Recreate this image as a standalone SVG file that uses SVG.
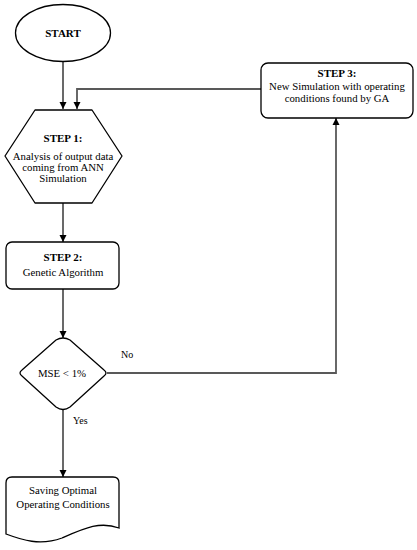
<svg xmlns="http://www.w3.org/2000/svg" width="417" height="550" viewBox="0 0 417 550">
<style>
.shape{fill:#fff;stroke:#000;stroke-width:1.3}
.conn{fill:none;stroke:#595959;stroke-width:1.8}
text{font-family:"Liberation Serif","DejaVu Serif",serif;font-size:10.8px;fill:#000;text-anchor:middle}
.b{font-weight:bold;font-size:11px}
.s{font-size:10px}
.l{text-anchor:start}
</style>
<defs>
<marker id="ah" markerWidth="8" markerHeight="8" refX="7" refY="4" orient="auto" markerUnits="userSpaceOnUse">
<path d="M0,0.5 L7,4 L0,7.5 Z" fill="#000"/>
</marker>
</defs>
<rect width="417" height="550" fill="#fff"/>
<g id="connectors">
<path class="conn" d="M63,62 V109" marker-end="url(#ah)"/>
<path class="conn" d="M261,89 H77 V109" marker-end="url(#ah)"/>
<path class="conn" d="M63,203 V242" marker-end="url(#ah)"/>
<path class="conn" d="M63,289 V338" marker-end="url(#ah)"/>
<path class="conn" d="M107,373 H336 V118" marker-end="url(#ah)"/>
<path class="conn" d="M63,410 V477" marker-end="url(#ah)"/>
<text class="l s" x="121" y="358">No</text>
<text class="l s" x="73" y="424">Yes</text>
</g>
<g id="start">
<ellipse class="shape" cx="63" cy="33" rx="47.5" ry="28.5" stroke-width="2"/>
<text class="b" x="63" y="37">START</text>
</g>
<g id="step1">
<path class="shape" d="M35,110 H92 L122,156 L92,203 H35 L5,156 Z" stroke-linejoin="round"/>
<text class="b" x="63" y="142">STEP 1:</text>
<text x="63" y="160">Analysis of output data</text>
<text x="63" y="171">coming from ANN</text>
<text x="63" y="182">Simulation</text>
</g>
<g id="step2">
<rect class="shape" x="6" y="242" width="113" height="47" rx="6"/>
<text class="b" x="63" y="261">STEP 2:</text>
<text x="63" y="276">Genetic Algorithm</text>
</g>
<g id="decision">
<path class="shape" d="M56,340 Q63,336 70,340 L104,370 Q108,373 104,376 L70,407 Q63,412 56,407 L22,376 Q18,373 22,370 Z"/>
<text x="62" y="377">MSE &lt; 1%</text>
</g>
<g id="step3">
<rect class="shape" x="261" y="63" width="152" height="55" rx="7"/>
<text class="b" x="337" y="77">STEP 3:</text>
<text x="337" y="90">New Simulation with operating</text>
<text x="337" y="102">conditions found by GA</text>
</g>
<g id="output">
<path class="shape" d="M12,477 H113 Q119,477 119,483 V528 C100,521 85,528 62,538 C40,546 22,540 6,534 V483 Q6,477 12,477 Z"/>
<text x="63" y="494">Saving Optimal</text>
<text x="63" y="508">Operating Conditions</text>
</g>
</svg>
